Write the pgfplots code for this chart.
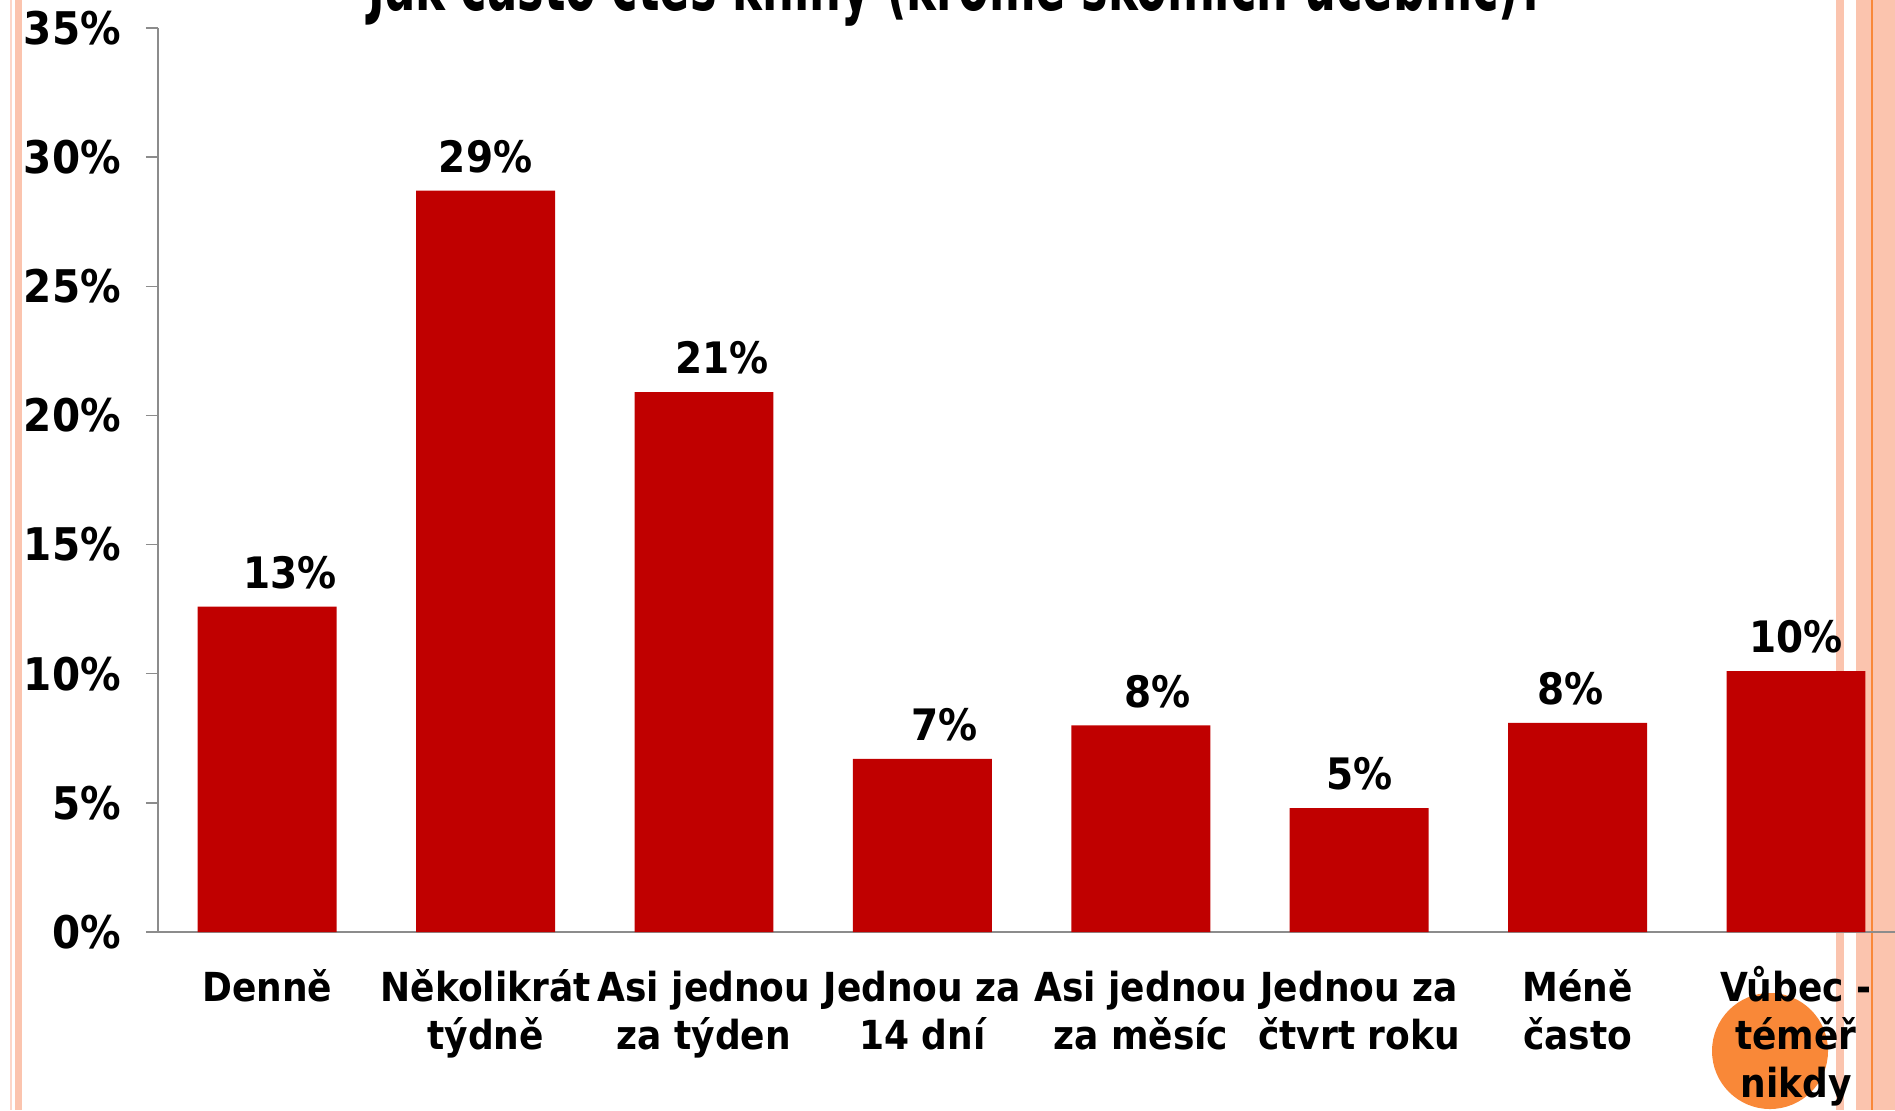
\documentclass[border=0pt]{standalone}
\usepackage{pgfplots}
\pgfplotsset{compat=1.18}
\usepackage{fontspec}
\setmainfont{DejaVu Sans Condensed}
\usepackage{graphicx}

\definecolor{barred}{RGB}{192,0,0}
\definecolor{axisgray}{RGB}{140,140,140}
\definecolor{salmon}{RGB}{251,196,174}
\definecolor{palesalmon}{RGB}{252,214,200}
\definecolor{accentorange}{RGB}{249,136,56}

% x = category, y = share in %, label = printed value, shift = label offset (pt)
\pgfplotstableread{
x y    label shift
0 12.6 13    6.9
1 28.7 29    0
2 20.9 21    5.4
3 6.7  7     6.6
4 8.0  8     5.1
5 4.8  5     0
6 8.1  8     -2.2
7 10.1 10    0
}\readdata

\newcommand{\fl}{\vphantom{ů}}

\begin{document}
\begin{tikzpicture}
% page = 1895 x 1110 px, 1 px = 0.3pt
\useasboundingbox (0,0) rectangle (568.5pt,-333pt);
\clip (0,0) rectangle (568.5pt,-333pt);

% slide decoration behind the chart
\begin{scope}[x=0.3pt,y=-0.3pt]
  \fill[palesalmon] (10,0) rectangle (12,1110);
  \fill[salmon] (15,0) rectangle (22,1110);
  \fill[salmon] (1836,0) rectangle (1844,1110);
  \fill[salmon] (1856,0) rectangle (1895,1110);
  \fill[accentorange] (1871,0) rectangle (1873,1110);
  \fill[accentorange] (1770,1051) circle (58);
\end{scope}

% title, cut by the top edge
\node[anchor=base,inner sep=0] at (287.1pt,-3.2pt)
  {\resizebox{353pt}{\height}{\fontsize{22}{26}\selectfont\bfseries Jak často čteš knihy (kromě školních učebnic)?}};

\begin{axis}[
    at={(47.4pt,-279.6pt)}, anchor=south west,
    scale only axis,
    width=524.16pt, height=271.2pt,
    xmin=-0.5, xmax=7.5,
    ymin=0, ymax=35,
    axis x line*=bottom,
    axis y line*=left,
    axis line style={axisgray, line width=0.5pt},
    tick align=outside,
    ytick={0,5,...,35},
    yticklabels={0\%,5\%,10\%,15\%,20\%,25\%,30\%,35\%},
    major tick length=3.6pt,
    tick style={axisgray, line width=0.4pt},
    xtick={0,...,7},
    xticklabels={\fl Denně, \fl Několikrát\\týdně, \fl Asi jednou\\za týden, \fl Jednou za\\14 dní,
                 \fl Asi jednou\\za měsíc, \fl Jednou za\\čtvrt roku, \fl Méně\\často, \fl Vůbec -\\téměř\\nikdy},
    x tick style={draw=none},
    minor xtick={-0.5,0.5,...,7.5},
    minor x tick style={axisgray, line width=0.4pt},
    minor tick length=4pt,
    xticklabel style={font=\fontsize{12}{14.4}\selectfont\bfseries, align=center, yshift=-3pt},
    yticklabel style={font=\fontsize{13.5}{15}\selectfont\bfseries, xshift=-4pt},
    ybar, bar width=0.636,
    point meta=explicit symbolic,
    nodes near coords={\pgfplotspointmeta\%},
    visualization depends on={\thisrow{shift} \as \labelshift},
    every node near coord/.append style={font=\fontsize{13}{15}\selectfont\bfseries,
        anchor=base, yshift=5.5pt, xshift=\labelshift pt},
    clip=false,
]
\addplot[fill=barred, draw=none] table[x=x, y=y, meta=label] {\readdata};
\end{axis}
\end{tikzpicture}
\end{document}
